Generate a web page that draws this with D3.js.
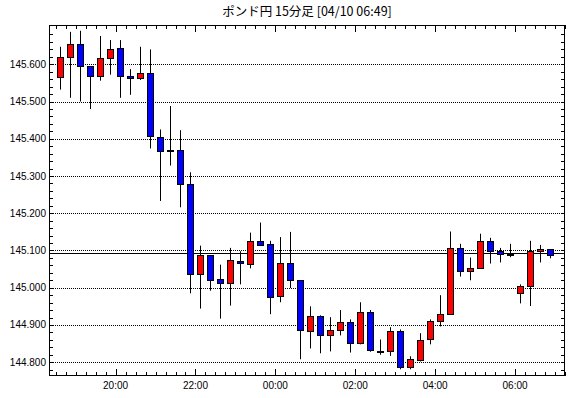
<!DOCTYPE html>
<html>
<head>
<meta charset="utf-8">
<script src="https://cdn.jsdelivr.net/npm/d3@7"></script>
<style>
  body { margin: 0; background: #fff; }
  .axis-label { font-family: "Liberation Sans", Arial, sans-serif; font-size: 10px; fill: #000; }
  .title { font-family: "Noto Sans CJK JP", sans-serif; font-size: 12.5px; fill: #000; }
</style>
</head>
<body>
<div id="chart"></div>
<script>
// 15 minute candles, 04/09 18:30 .. 04/10 06:45
var times = ["04/09 18:30","04/09 18:45","04/09 19:00","04/09 19:15","04/09 19:30","04/09 19:45",
             "04/09 20:00","04/09 20:15","04/09 20:30","04/09 20:45","04/09 21:00","04/09 21:15",
             "04/09 21:30","04/09 21:45","04/09 22:00","04/09 22:15","04/09 22:30","04/09 22:45",
             "04/09 23:00","04/09 23:15","04/09 23:30","04/09 23:45","04/10 00:00","04/10 00:15",
             "04/10 00:30","04/10 00:45","04/10 01:00","04/10 01:15","04/10 01:30","04/10 01:45",
             "04/10 02:00","04/10 02:15","04/10 02:30","04/10 02:45","04/10 03:00","04/10 03:15",
             "04/10 03:30","04/10 03:45","04/10 04:00","04/10 04:15","04/10 04:30","04/10 04:45",
             "04/10 05:00","04/10 05:15","04/10 05:30","04/10 05:45","04/10 06:00","04/10 06:15",
             "04/10 06:30","04/10 06:45"];
var opens  = [145.565,145.619,145.655,145.595,145.568,145.616,145.643,145.568,145.562,145.576,
              145.406,145.370,145.371,145.279,145.037,145.088,145.023,145.012,145.072,145.064,
              145.126,145.118,144.977,145.066,145.020,144.883,144.923,144.872,144.886,144.907,
              144.851,144.934,144.831,144.829,144.883,144.786,144.808,144.861,144.910,144.929,
              145.107,145.045,145.053,145.126,145.099,145.091,144.987,145.006,145.099,145.104];
var highs  = [145.647,145.687,145.690,145.595,145.676,145.665,145.665,145.587,145.647,145.640,
              145.425,145.488,145.423,145.310,145.113,145.088,145.062,145.107,145.098,145.148,
              145.175,145.126,145.136,145.150,145.020,144.950,144.926,144.921,144.940,144.915,
              144.961,144.940,144.861,144.894,144.888,144.816,144.878,144.915,144.980,145.151,
              145.118,145.081,145.145,145.134,145.107,145.118,145.009,145.126,145.115,145.104];
var lows   = [145.532,145.510,145.500,145.480,145.556,145.572,145.510,145.518,145.558,145.374,
              145.233,145.328,145.216,144.985,144.944,144.992,144.917,144.952,145.009,145.052,
              145.112,144.929,144.961,144.999,144.808,144.837,144.824,144.829,144.872,144.826,
              144.848,144.828,144.820,144.817,144.781,144.781,144.802,144.848,144.896,144.929,
              145.030,145.020,145.053,145.065,145.068,145.082,144.958,144.951,145.068,145.079];
var closes = [145.619,145.655,145.595,145.568,145.616,145.640,145.568,145.562,145.576,145.406,
              145.369,145.370,145.279,145.037,145.088,145.020,145.012,145.074,145.066,145.126,
              145.115,144.977,145.066,145.020,144.886,144.923,144.872,144.886,144.907,144.851,
              144.934,144.832,144.831,144.883,144.786,144.808,144.861,144.910,144.929,145.107,
              145.045,145.053,145.126,145.099,145.091,145.091,145.006,145.099,145.104,145.088];
var currentPrice = 145.093;
var yTicks = [144.8, 144.9, 145.0, 145.1, 145.2, 145.3, 145.4, 145.5, 145.6];
var titleText = "ポンド円 15分足 [04/10 06:49]";

var w = 570, h = 398;
var margin = {top: 25, right: 5, bottom: 22, left: 49};
var width = w - margin.left - margin.right,
    height = h - margin.top - margin.bottom;

var parseTime = d3.timeParse("%m/%d %H:%M");
var data = times.map(function(t, i) {
    return {t: parseTime(t), o: opens[i], hi: highs[i], lo: lows[i], c: closes[i]};
});

var x = d3.scaleTime()
    .domain([parseTime("04/09 18:20"), parseTime("04/10 07:15")])
    .range([0, width]);
var y = d3.scaleLinear()
    .domain([144.763, 145.7055])
    .range([height, 0]);

var svg = d3.select("#chart").append("svg")
    .attr("width", w)
    .attr("height", h)
  .append("g")
    .attr("transform", "translate(" + margin.left + "," + margin.top + ")");

// title
svg.append("text")
    .attr("class", "title")
    .attr("x", width / 2)
    .attr("y", -9)
    .attr("text-anchor", "middle")
    .text(titleText);

// dotted grid
svg.selectAll(".grid")
    .data(yTicks)
  .enter().append("line")
    .attr("class", "grid")
    .attr("x1", 0).attr("x2", width)
    .attr("y1", function(d) { return Math.round(y(d)) + 0.5; })
    .attr("y2", function(d) { return Math.round(y(d)) + 0.5; })
    .attr("stroke", "#000")
    .attr("stroke-dasharray", "1,1");

// current price line
svg.append("line")
    .attr("x1", 0).attr("x2", width)
    .attr("y1", Math.round(y(currentPrice)) + 0.5)
    .attr("y2", Math.round(y(currentPrice)) + 0.5)
    .attr("stroke", "#000");

// candle center sits half a bar after its start time
function cx(d) { return Math.round(x(d3.timeMinute.offset(d.t, 7.5))) + 0.5; }

var candles = svg.selectAll(".candle")
    .data(data)
  .enter().append("g")
    .attr("class", "candle");

candles.append("line")
    .attr("x1", cx).attr("x2", cx)
    .attr("y1", function(d) { return y(d.hi); })
    .attr("y2", function(d) { return y(d.lo); })
    .attr("stroke", "#000");

candles.append("rect")
    .attr("x", function(d) { return cx(d) - 3; })
    .attr("y", function(d) { return Math.round(y(Math.max(d.o, d.c))) + 0.5; })
    .attr("width", 6)
    .attr("height", function(d) { return Math.max(1, Math.round(Math.abs(y(d.o) - y(d.c)))); })
    .attr("fill", function(d) {
        if (d.c > d.o) { return "#ff0000"; }
        else if (d.c < d.o) { return "#0000ff"; }
        return "#000";
    })
    .attr("stroke", "#000");

// frame
svg.append("rect")
    .attr("x", 0.5).attr("y", 0.5)
    .attr("width", width - 1).attr("height", height - 1)
    .attr("fill", "none")
    .attr("stroke", "#000");

// time ticks (top + bottom, inward)
var minorT = x.ticks(d3.timeMinute.every(15));
var majorT = x.ticks(d3.timeHour.every(2));
function tx(d) { return Math.round(x(d)) + 0.5; }
svg.selectAll(".tb").data(minorT).enter().append("line")
    .attr("x1", tx).attr("x2", tx)
    .attr("y1", height).attr("y2", function(d) { return d.getMinutes() == 0 && d.getHours() % 2 == 0 ? height - 7 : height - 4; })
    .attr("stroke", "#000");
svg.selectAll(".tt").data(minorT).enter().append("line")
    .attr("x1", tx).attr("x2", tx)
    .attr("y1", 0).attr("y2", function(d) { return d.getMinutes() == 0 && d.getHours() % 2 == 0 ? 7 : 4; })
    .attr("stroke", "#000");

svg.selectAll(".xl").data(majorT).enter().append("text")
    .attr("class", "axis-label")
    .attr("x", function(d) { return x(d); })
    .attr("y", height + 13)
    .attr("text-anchor", "middle")
    .text(d3.timeFormat("%H:%M"));

// price ticks (left + right, inward), every 0.02
var minorY = d3.range(144.78, 145.70, 0.02);
function ty(d) { return Math.round(y(d)) + 0.5; }
svg.selectAll(".tl").data(minorY).enter().append("line")
    .attr("x1", 0).attr("x2", 4)
    .attr("y1", ty).attr("y2", ty)
    .attr("stroke", "#000");
svg.selectAll(".tr").data(minorY).enter().append("line")
    .attr("x1", width - 4).attr("x2", width)
    .attr("y1", ty).attr("y2", ty)
    .attr("stroke", "#000");

svg.selectAll(".yl").data(yTicks).enter().append("text")
    .attr("class", "axis-label")
    .attr("x", -3)
    .attr("y", function(d) { return y(d); })
    .attr("dy", "0.35em")
    .attr("text-anchor", "end")
    .text(d3.format(".3f"));
</script>
</body>
</html>
